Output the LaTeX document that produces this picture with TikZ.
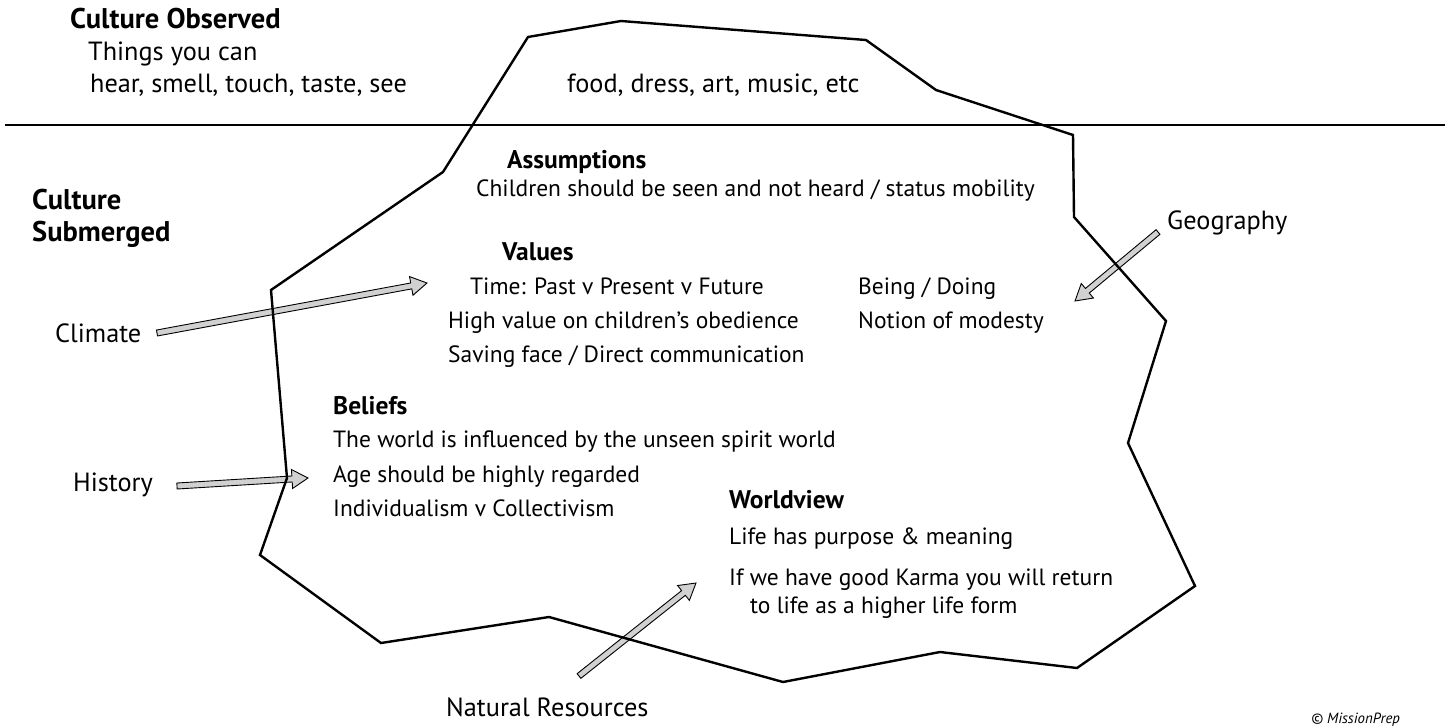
\documentclass[tikz,border=0pt]{standalone}
\usepackage{fontspec}
\setmainfont{PT Sans}
\usetikzlibrary{calc}

% Grey block arrow with a thin black outline, from #1 to #2
\newcommand\blockarrow[2]{%
  \path let \p1=($(#2)-(#1)$) in
    \pgfextra{\pgfmathsetmacro\baang{atan2(\y1,\x1)}%
              \pgfmathsetmacro\balen{veclen(\x1,\y1)}%
              \xdef\baang{\baang}\xdef\balen{\balen}};
  \begin{scope}[shift={(#1)}, rotate=\baang]
    \filldraw[arrowbody]
      (0pt,-3pt) -- (\balen pt-16pt,-3pt) -- (\balen pt-16pt,-9.5pt)
      -- (\balen pt,0pt) -- (\balen pt-16pt,9.5pt) -- (\balen pt-16pt,3pt)
      -- (0pt,3pt) -- cycle;
  \end{scope}}

\begin{document}
\begin{tikzpicture}[x=1pt,y=-1pt,
  txt/.style={anchor=base west, inner sep=0pt, font=\fontsize{23.5}{28}\selectfont},
  big/.style={anchor=base west, inner sep=0pt, font=\fontsize{26.3}{31}\selectfont},
  hd/.style={anchor=base west, inner sep=0pt, font=\fontsize{25.5}{30}\selectfont\bfseries},
  bighd/.style={anchor=base west, inner sep=0pt, font=\fontsize{28.5}{34}\selectfont\bfseries},
  berg/.style={line width=2.4pt, line join=miter, black},
  arrowbody/.style={fill=black!18, draw=black, line width=0.9pt, line join=miter}]

\useasboundingbox (0,0) rectangle (1448,726);

% above the waterline
\node[bighd] (obs)    at (70,28)   {Culture Observed};
\node[big]   (things) at (88,60)   {Things you can};
\node[big]   (senses) at (90,92)   {hear, smell, touch, taste, see};
\node[big]   (food)   at (567,92)  {food, dress, art, music, etc};

% below the waterline
\node[bighd] (sub1)   at (32,209)  {Culture};
\node[bighd] (sub2)   at (32,241)  {Submerged};

\node[hd]  (assum)  at (507,168) {Assumptions};
\node[txt] (assum1) at (476,196) {Children should be seen and not heard / status mobility};

\node[hd]  (values) at (502,260) {Values};
\node[txt] (val1)   at (470,294) {Time: Past v Present v Future};
\node[txt] (val2)   at (448,328) {High value on children’s obedience};
\node[txt] (val3)   at (448,362) {Saving face / Direct communication};
\node[txt] (val4)   at (858,294) {Being / Doing};
\node[txt] (val5)   at (858,328) {Notion of modesty};

\node[hd]  (belief) at (333,414) {Beliefs};
\node[txt] (bel1)   at (333,447) {The world is influenced by the unseen spirit world};
\node[txt] (bel2)   at (333,482) {Age should be highly regarded};
\node[txt] (bel3)   at (333,516) {Individualism v Collectivism};

\node[hd]  (world)  at (729,508) {Worldview};
\node[txt] (wor1)   at (729,544) {Life has purpose \& meaning};
\node[txt] (wor2)   at (729,585) {If we have good Karma you will return};
\node[txt] (wor3)   at (750,613) {to life as a higher life form};

% outside influences
\node[big] (climate) at (55,342)   {Climate};
\node[big] (history) at (73,491)   {History};
\node[big] (geo)     at (1167,229) {Geography};
\node[big] (natres)  at (446,716)  {Natural Resources};

\node[anchor=base west, inner sep=0pt, font=\fontsize{14.8}{17}\selectfont\itshape]
  (copy) at (1311,723) {© MissionPrep};

% arrow end points
\coordinate (climA) at (157,333);
\coordinate (climB) at (427,283);
\coordinate (histA) at (177,486);
\coordinate (histB) at (308,478);
\coordinate (geoA)  at (1158,232);
\coordinate (geoB)  at (1075,301);
\coordinate (natA)  at (579,676);
\coordinate (natB)  at (696,583);

\blockarrow{climA}{climB}
\blockarrow{histA}{histB}
\blockarrow{geoA}{geoB}
\blockarrow{natA}{natB}

% waterline
\draw[line width=2pt] (5,125) -- (1445,125);

% the iceberg
\draw[berg] (443,172) -- (528,37) -- (621,21) -- (866,40) -- (936,90)
  -- (1073,135) -- (1074,217) -- (1166,321) -- (1128,443) -- (1195,586)
  -- (1077,668) -- (940,652) -- (783,682) -- (549,617) -- (381,643)
  -- (260,555) -- (287,478) -- (271,290) -- cycle;

\end{tikzpicture}
\end{document}
